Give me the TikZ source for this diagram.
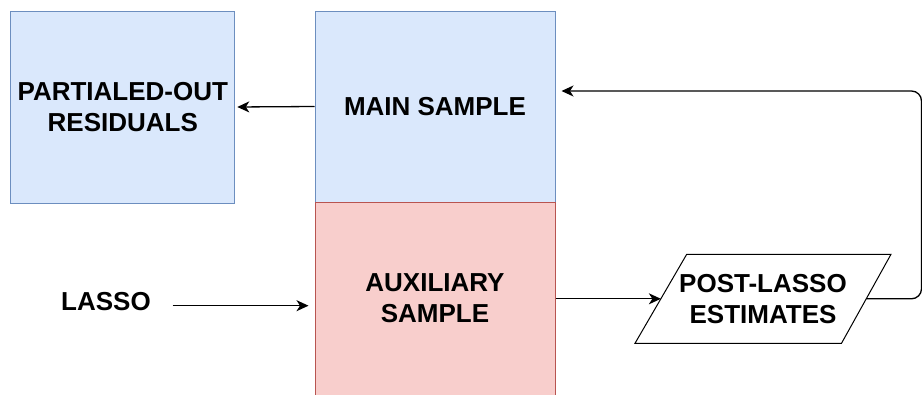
\documentclass[tikz,border=0pt]{standalone}
\usepackage{fontspec}
\setmainfont{Liberation Sans}
\usetikzlibrary{arrows.meta,calc}
\definecolor{blueF}{HTML}{DAE8FC}
\definecolor{blueD}{HTML}{6C8EBF}
\definecolor{redF}{HTML}{F8CECC}
\definecolor{redD}{HTML}{B85450}
\begin{document}
\begin{tikzpicture}[x=1pt,y=-1pt,
  lbl/.style={font=\bfseries\fontsize{26}{31}\selectfont, align=center, inner sep=0pt},
  box/.style={lbl, draw, line width=1pt},
  bluebox/.style={box, fill=blueF, draw=blueD},
  redbox/.style={box, fill=redF, draw=redD},
  conn/.style={line width=1.3pt, -{Stealth[length=12pt,width=11pt,inset=3.5pt]}},
  ioshape/.style={draw, line width=1pt, line join=miter}]
\useasboundingbox (0,0) rectangle (922,394);
\node[bluebox, minimum width=224pt, minimum height=192pt] (res) at (122.8,107) {PARTIALED-OUT\\RESIDUALS};
\node[bluebox, minimum width=240pt, minimum height=191pt] (main) at (435,106.5) {MAIN SAMPLE};
\node[redbox, minimum width=240pt, minimum height=196pt] (aux) at (435,300) {};
\node[lbl] (auxtext) at (435,298) {AUXILIARY\\SAMPLE};
\node[lbl] (lasso) at (106,302) {LASSO};
% parallelogram
\coordinate (plTL) at (686.7,254.3);
\coordinate (plTR) at (891,254.3);
\coordinate (plBR) at (841.5,343.3);
\coordinate (plBL) at (635,343.3);
\draw[ioshape] (plTL) -- (plTR) -- (plBR) -- (plBL) -- cycle;
\coordinate (plW) at ($(plTL)!0.5!(plBL)$);
\coordinate (plE) at ($(plTR)!0.5!(plBR)$);
\node[lbl] (pl) at (763,299.5) {POST-LASSO\\ESTIMATES};
\coordinate (lassoStart) at (172.5,305.7);
\coordinate (corner) at (921.5,91);
\draw[conn, shorten >=2pt] (main.west) -- (res.east);
\draw[conn, shorten >=6pt] (lassoStart) -- (aux.west |- lassoStart);
\draw[conn] (aux.east |- plW) -- (plW);
\draw[conn, rounded corners=10pt, shorten >=6pt] (plE) -| (corner) -- (main.east |- corner);
\end{tikzpicture}
\end{document}
